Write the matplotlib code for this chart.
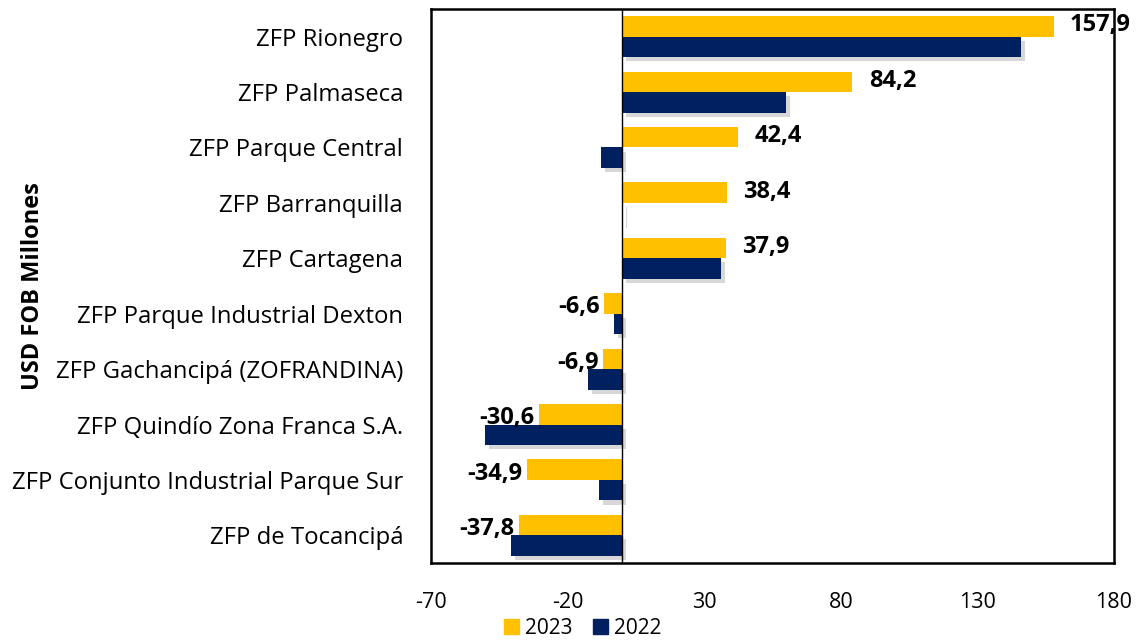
import numpy as np
import matplotlib.pyplot as plt
import matplotlib.patheffects as pe
from matplotlib.patches import Patch

plt.rcParams['font.family'] = ['Open Sans', 'DejaVu Sans']

# data (USD FOB millones)
zonas = ["ZFP Rionegro", "ZFP Palmaseca", "ZFP Parque Central", "ZFP Barranquilla",
         "ZFP Cartagena", "ZFP Parque Industrial Dexton", "ZFP Gachancipá (ZOFRANDINA)",
         "ZFP Quindío Zona Franca S.A.", "ZFP Conjunto Industrial Parque Sur",
         "ZFP de Tocancipá"]
v2023 = [157.9, 84.2, 42.4, 38.4, 37.9, -6.6, -6.9, -30.6, -34.9, -37.8]
v2022 = [146.0, 60.0, -7.7, 0.4, 36.0, -3.0, -12.5, -50.3, -8.5, -40.6]
xticks = [-70, -20, 30, 80, 130, 180]

amarillo = "#FFC000"
azul = "#002060"

fig = plt.figure(figsize=(11.41, 6.42), dpi=100)
ax = fig.add_axes([431/1141, 1 - 563/642, 683/1141, 554/642])

y = np.arange(len(zonas))
h = 0.37
sombra = [pe.SimplePatchShadow(offset=(3, -3), alpha=0.22, shadow_rgbFace="0.3"), pe.Normal()]

b22 = ax.barh(y + h/2, v2022, height=h, color=azul, zorder=2)
b23 = ax.barh(y - h/2, v2023, height=h, color=amarillo, zorder=3)
for b in b22:
    b.set_path_effects(sombra)

for yi, v in zip(y, v2023):
    txt = f"{v:.1f}".replace(".", ",")
    if v >= 0:
        ax.text(v + 6, yi - h/2 - 0.02, txt, ha="left", va="center",
                fontsize=17, fontweight="bold", zorder=5)
    else:
        ax.text(v - 1.5, yi - h/2 + 0.07, txt, ha="right", va="center",
                fontsize=17, fontweight="bold", zorder=5)

ax.axvline(0, color="black", lw=1, zorder=4)
ax.set_xlim(-70, 180)
ax.set_ylim(len(zonas) - 0.5, -0.5)
ax.set_xticks(xticks)
ax.set_xticklabels([str(t) for t in xticks], fontsize=15.5)
ax.set_yticks(y)
ax.set_yticklabels(zonas, fontsize=17.2)
ax.tick_params(length=0, pad=20)
ax.tick_params(axis="x", pad=21)
for s in ax.spines.values():
    s.set_linewidth(1.8)
ax.set_ylabel("USD FOB Millones", fontsize=17, fontweight="bold")
ax.yaxis.set_label_coords(-0.565, 0.5)

handles = [Patch(color=amarillo), Patch(color=azul)]
fig.legend(handles, ["2023", "2022"], loc="lower center", ncol=2, frameon=False,
           bbox_to_anchor=(583/1141, -0.024), fontsize=15, handlelength=0.7,
           handleheight=0.7, handletextpad=0.3, columnspacing=1.0)

fig.savefig("out.png", dpi=100)
